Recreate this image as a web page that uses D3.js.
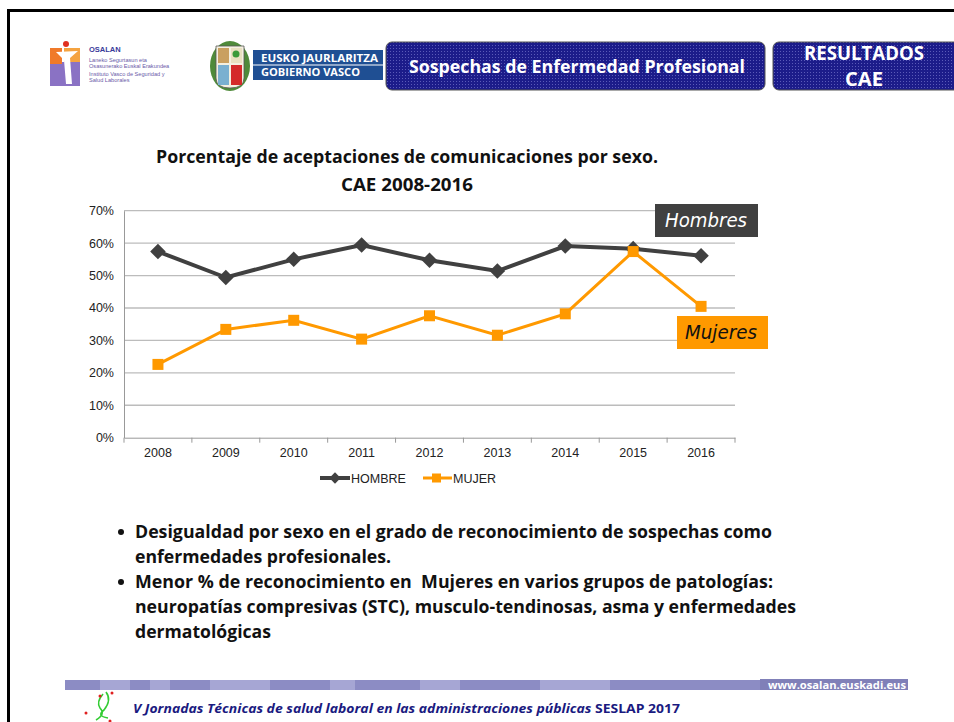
<!DOCTYPE html>
<html>
<head>
<meta charset="utf-8">
<script src="https://cdn.jsdelivr.net/npm/d3@7"></script>
<style>
  body { margin: 0; background: #fff; }
  svg { display: block; }
  text { white-space: pre; }
</style>
</head>
<body>
<svg id="slide" width="954" height="722"></svg>
<script>
// chart data
var years = ["2008", "2009", "2010", "2011", "2012", "2013", "2014", "2015", "2016"];
var hombre = [57.4, 49.4, 55.0, 59.4, 54.7, 51.4, 59.1, 58.3, 56.1];
var mujer = [22.6, 33.4, 36.2, 30.4, 37.6, 31.6, 38.2, 57.4, 40.5];
var yTicks = [0, 10, 20, 30, 40, 50, 60, 70];
var seriesNames = ["HOMBRE", "MUJER"];

var bullets = [
  ["Desigualdad por sexo en el grado de reconocimiento de sospechas como",
   "enfermedades profesionales."],
  ["Menor % de reconocimiento en  Mujeres en varios grupos de patologías:",
   "neuropatías compresivas (STC), musculo-tendinosas, asma y enfermedades",
   "dermatológicas"]
];

var svg = d3.select("#slide");
var calibri = "'Open Sans', 'Noto Sans', sans-serif";
var arial = "'Liberation Sans', Arial, sans-serif";

// dotted pattern for header boxes
var defs = svg.append("defs");
var pat = defs.append("pattern").attr("id", "dots")
  .attr("width", 3).attr("height", 3).attr("patternUnits", "userSpaceOnUse");
pat.append("rect").attr("width", 3).attr("height", 3).attr("fill", "#1c1c8a");
pat.append("rect").attr("width", 1).attr("height", 1).attr("fill", "#5a5ab8");

// slide frame
svg.append("path").attr("d", "M8.5,722 V10.5 H954")
  .attr("fill", "none").attr("stroke", "#000").attr("stroke-width", 3);

// ---- header: OSALAN logo
var osa = svg.append("g");
osa.append("rect").attr("x", 50).attr("y", 48).attr("width", 12).attr("height", 18).attr("fill", "#f07a2a");
osa.append("rect").attr("x", 50).attr("y", 64).attr("width", 12).attr("height", 22).attr("fill", "#8a72c4");
osa.append("rect").attr("x", 64).attr("y", 48).attr("width", 16).attr("height", 14).attr("fill", "#f5a340");
osa.append("rect").attr("x", 62).attr("y", 62).attr("width", 18).attr("height", 24).attr("fill", "#8a72c4");
osa.append("path").attr("d", "M56,52 L78,51 L70,58 L72,84 L66,84 L64,60 Z").attr("fill", "#fff");
osa.append("circle").attr("cx", 66).attr("cy", 44).attr("r", 3).attr("fill", "#e03020");
osa.append("text").attr("x", 89).attr("y", 52).text("OSALAN")
  .attr("font-family", arial).attr("font-weight", "bold").attr("font-size", 7.5).attr("fill", "#3a3a9a");
[["Laneko Segurtasun eta", 62, "#6a5aa8"], ["Osasunerako Euskal Erakundea", 68, "#6a5aa8"],
 ["Instituto Vasco de Seguridad y", 76, "#6a5aa8"], ["Salud Laborales", 82, "#6a5aa8"]].forEach(function (l) {
  osa.append("text").attr("x", 89).attr("y", l[1]).text(l[0])
    .attr("font-family", arial).attr("font-size", 5.6).attr("fill", l[2]);
});

// ---- header: Gobierno Vasco logo
var gv = svg.append("g");
gv.append("ellipse").attr("cx", 230).attr("cy", 66).attr("rx", 20).attr("ry", 25).attr("fill", "#4f8a3a");
gv.append("path").attr("d", "M216,46 H244 V78 Q244,88 230,88 Q216,88 216,78 Z").attr("fill", "#f4f0e0").attr("stroke", "#555").attr("stroke-width", 0.8);
gv.append("rect").attr("x", 218).attr("y", 48).attr("width", 11).attr("height", 15).attr("fill", "#c9a060");
gv.append("rect").attr("x", 231).attr("y", 48).attr("width", 11).attr("height", 15).attr("fill", "#e8e0c0");
gv.append("circle").attr("cx", 236).attr("cy", 54).attr("r", 3.5).attr("fill", "#3a9a3a");
gv.append("rect").attr("x", 218).attr("y", 65).attr("width", 11).attr("height", 20).attr("fill", "#7ab0d0");
gv.append("rect").attr("x", 231).attr("y", 65).attr("width", 11).attr("height", 20).attr("fill", "#d42a2a");
gv.append("rect").attr("x", 253).attr("y", 50).attr("width", 130).attr("height", 30).attr("fill", "#1f4f93");
gv.append("line").attr("x1", 253).attr("x2", 383).attr("y1", 65).attr("y2", 65).attr("stroke", "#fff").attr("stroke-width", 1);
gv.append("text").attr("x", 261).attr("y", 62).text("EUSKO JAURLARITZA")
  .attr("font-family", calibri).attr("font-weight", "bold").attr("font-size", 10.5).attr("fill", "#fff")
  .attr("textLength", 117).attr("lengthAdjust", "spacingAndGlyphs");
gv.append("text").attr("x", 261).attr("y", 76).text("GOBIERNO VASCO")
  .attr("font-family", calibri).attr("font-weight", "bold").attr("font-size", 10.5).attr("fill", "#fff")
  .attr("textLength", 99).attr("lengthAdjust", "spacingAndGlyphs");

// ---- header boxes
svg.append("rect").attr("x", 386).attr("y", 42).attr("width", 379).attr("height", 48).attr("rx", 6)
  .attr("fill", "url(#dots)").attr("stroke", "#555").attr("stroke-width", 1);
svg.append("text").attr("x", 577).attr("y", 73).attr("text-anchor", "middle").text("Sospechas de Enfermedad Profesional")
  .attr("font-family", calibri).attr("font-weight", "bold").attr("font-size", 18).attr("fill", "#fff")
  .attr("textLength", 336).attr("lengthAdjust", "spacingAndGlyphs");
svg.append("rect").attr("x", 773).attr("y", 42).attr("width", 190).attr("height", 48).attr("rx", 6)
  .attr("fill", "url(#dots)").attr("stroke", "#555").attr("stroke-width", 1);
svg.append("text").attr("x", 864).attr("y", 60).attr("text-anchor", "middle").text("RESULTADOS")
  .attr("font-family", calibri).attr("font-weight", "bold").attr("font-size", 19).attr("fill", "#fff")
  .attr("textLength", 120).attr("lengthAdjust", "spacingAndGlyphs");
svg.append("text").attr("x", 864).attr("y", 86).attr("text-anchor", "middle").text("CAE")
  .attr("font-family", calibri).attr("font-weight", "bold").attr("font-size", 19).attr("fill", "#fff")
  .attr("textLength", 38).attr("lengthAdjust", "spacingAndGlyphs");

// ---- chart title
svg.append("text").attr("x", 407).attr("y", 163).attr("text-anchor", "middle")
  .text("Porcentaje de aceptaciones de comunicaciones por sexo.")
  .attr("font-family", calibri).attr("font-weight", "bold").attr("font-size", 17).attr("fill", "#111")
  .attr("textLength", 502).attr("lengthAdjust", "spacingAndGlyphs");
svg.append("text").attr("x", 407).attr("y", 191).attr("text-anchor", "middle")
  .text("CAE 2008-2016")
  .attr("font-family", calibri).attr("font-weight", "bold").attr("font-size", 17).attr("fill", "#111")
  .attr("textLength", 132).attr("lengthAdjust", "spacingAndGlyphs");

// ---- chart
var plotLeft = 124, plotRight = 735, plotTop = 210.7, plotBottom = 437.7;
var x = d3.scaleBand().domain(years).range([plotLeft, plotRight]);
var y = d3.scaleLinear().domain([0, 70]).range([plotBottom, plotTop]);
var cx = function (i) { return x(years[i]) + x.bandwidth() / 2; };
var g = svg.append("g");

g.selectAll("line.grid").data(yTicks.slice(1)).join("line").attr("class", "grid")
  .attr("x1", plotLeft).attr("x2", plotRight).attr("y1", function (d) { return y(d); }).attr("y2", function (d) { return y(d); })
  .attr("stroke", "#bcbcbc").attr("stroke-width", 1.3);

var yAxis = g.append("g").attr("transform", "translate(" + plotLeft + ",0)")
  .call(d3.axisLeft(y).tickValues(yTicks).tickFormat(function (d) { return d + "%"; }).tickSize(0).tickPadding(10).tickSizeOuter(0));
yAxis.select(".domain").attr("stroke", "#999");
yAxis.selectAll("text").attr("font-family", arial).attr("font-size", 12.5).attr("fill", "#222");

var xAxis = g.append("g").attr("transform", "translate(0," + plotBottom + ")")
  .call(d3.axisBottom(x).tickSize(0).tickPadding(10).tickSizeOuter(0));
xAxis.select(".domain").attr("stroke", "#999");
xAxis.selectAll("text").attr("font-family", arial).attr("font-size", 12.5).attr("fill", "#222");
xAxis.selectAll("line.sep").data(years.concat(["end"])).join("line").attr("class", "sep")
  .attr("x1", function (d, i) { return plotLeft + i * x.step(); }).attr("x2", function (d, i) { return plotLeft + i * x.step(); })
  .attr("y1", 0).attr("y2", 5).attr("stroke", "#999");

var line = d3.line().x(function (d, i) { return cx(i); }).y(function (d) { return y(d); });

g.append("path").datum(hombre).attr("d", line).attr("fill", "none").attr("stroke", "#404040").attr("stroke-width", 4);
g.selectAll("path.dia").data(hombre).join("path").attr("class", "dia")
  .attr("transform", function (d, i) { return "translate(" + cx(i) + "," + y(d) + ") rotate(45)"; })
  .attr("d", "M-5.5,-5.5 H5.5 V5.5 H-5.5 Z").attr("fill", "#404040");

g.append("path").datum(mujer).attr("d", line).attr("fill", "none").attr("stroke", "#ff9900").attr("stroke-width", 3);
g.selectAll("rect.sq").data(mujer).join("rect").attr("class", "sq")
  .attr("x", function (d, i) { return cx(i) - 5.5; })
  .attr("y", function (d) { return y(d) - 5.5; })
  .attr("width", 11).attr("height", 11).attr("fill", "#ff9900");

// series call-outs
var hand = "'Segoe Print', 'Comic Sans MS', 'DejaVu Sans', sans-serif";
svg.append("rect").attr("x", 655).attr("y", 204).attr("width", 103).attr("height", 33).attr("fill", "#404040");
svg.append("text").attr("x", 706).attr("y", 227).attr("text-anchor", "middle").text("Hombres")
  .attr("font-family", hand).attr("font-style", "italic").attr("font-size", 19).attr("fill", "#fff")
  .attr("textLength", 82).attr("lengthAdjust", "spacingAndGlyphs");
svg.append("rect").attr("x", 677).attr("y", 316).attr("width", 91).attr("height", 33).attr("fill", "#ff9900");
svg.append("text").attr("x", 721).attr("y", 339).attr("text-anchor", "middle").text("Mujeres")
  .attr("font-family", hand).attr("font-style", "italic").attr("font-size", 19).attr("fill", "#111")
  .attr("textLength", 72).attr("lengthAdjust", "spacingAndGlyphs");

// legend
var lg = svg.append("g").attr("transform", "translate(0,478)");
lg.append("line").attr("x1", 320).attr("x2", 350).attr("stroke", "#404040").attr("stroke-width", 4);
lg.append("path").attr("transform", "translate(335,0) rotate(45)").attr("d", "M-4,-4 H4 V4 H-4 Z").attr("fill", "#404040");
lg.append("text").attr("x", 351).attr("y", 5).text(seriesNames[0])
  .attr("font-family", arial).attr("font-size", 12.5).attr("fill", "#222");
lg.append("line").attr("x1", 423).attr("x2", 452).attr("stroke", "#ff9900").attr("stroke-width", 3);
lg.append("rect").attr("x", 432).attr("y", -4.5).attr("width", 9).attr("height", 9).attr("fill", "#ff9900");
lg.append("text").attr("x", 453).attr("y", 5).text(seriesNames[1])
  .attr("font-family", arial).attr("font-size", 12.5).attr("fill", "#222");

// bullets
var lineY = [538, 563, 588, 613, 638];
var widths = [637, 256, 638, 661, 136];
var k = 0;
bullets.forEach(function (b) {
  svg.append("circle").attr("cx", 121).attr("cy", lineY[k] - 6).attr("r", 3).attr("fill", "#111");
  b.forEach(function (t) {
    svg.append("text").attr("x", 135).attr("y", lineY[k]).text(t)
      .attr("font-family", calibri).attr("font-weight", "bold").attr("font-size", 17.5).attr("fill", "#111")
      .attr("textLength", widths[k]).attr("lengthAdjust", "spacingAndGlyphs");
    k++;
  });
});

// footer band
var fb = svg.append("g");
fb.append("rect").attr("x", 65).attr("y", 680).attr("width", 843).attr("height", 10).attr("fill", "#8c8cc4");
[[100, 30], [150, 20], [210, 60], [330, 25], [420, 40], [540, 70]].forEach(function (s) {
  fb.append("rect").attr("x", s[0]).attr("y", 680).attr("width", s[1]).attr("height", 10).attr("fill", "#a6a6d4");
});
fb.append("rect").attr("x", 760).attr("y", 679).attr("width", 148).attr("height", 11).attr("fill", "#8080b8");
fb.append("text").attr("x", 906).attr("y", 688.5).attr("text-anchor", "end").text("www.osalan.euskadi.eus")
  .attr("font-family", calibri).attr("font-weight", "bold").attr("font-size", 10).attr("fill", "#fff")
  .attr("textLength", 138).attr("lengthAdjust", "spacingAndGlyphs");

// footer logo squiggle
var fl = svg.append("g");
fl.append("path").attr("d", "M103,694 Q96,702 100,708 Q106,714 96,720 M106,692 Q112,700 104,710 Q96,716 108,718")
  .attr("fill", "none").attr("stroke", "#33cc33").attr("stroke-width", 1.6);
[[100, 696], [112, 693], [86, 713], [110, 721]].forEach(function (p) {
  fl.append("circle").attr("cx", p[0]).attr("cy", p[1]).attr("r", 1.5).attr("fill", "#e02020");
});

var ft = svg.append("text").attr("x", 133).attr("y", 713)
  .attr("font-family", calibri).attr("font-weight", "bold").attr("font-size", 12.5).attr("fill", "#1a1a80");
ft.append("tspan").attr("font-style", "italic").text("V Jornadas Técnicas de salud laboral en las administraciones públicas ");
ft.append("tspan").text("SESLAP 2017");
ft.attr("textLength", 547).attr("lengthAdjust", "spacingAndGlyphs");
</script>
</body>
</html>
